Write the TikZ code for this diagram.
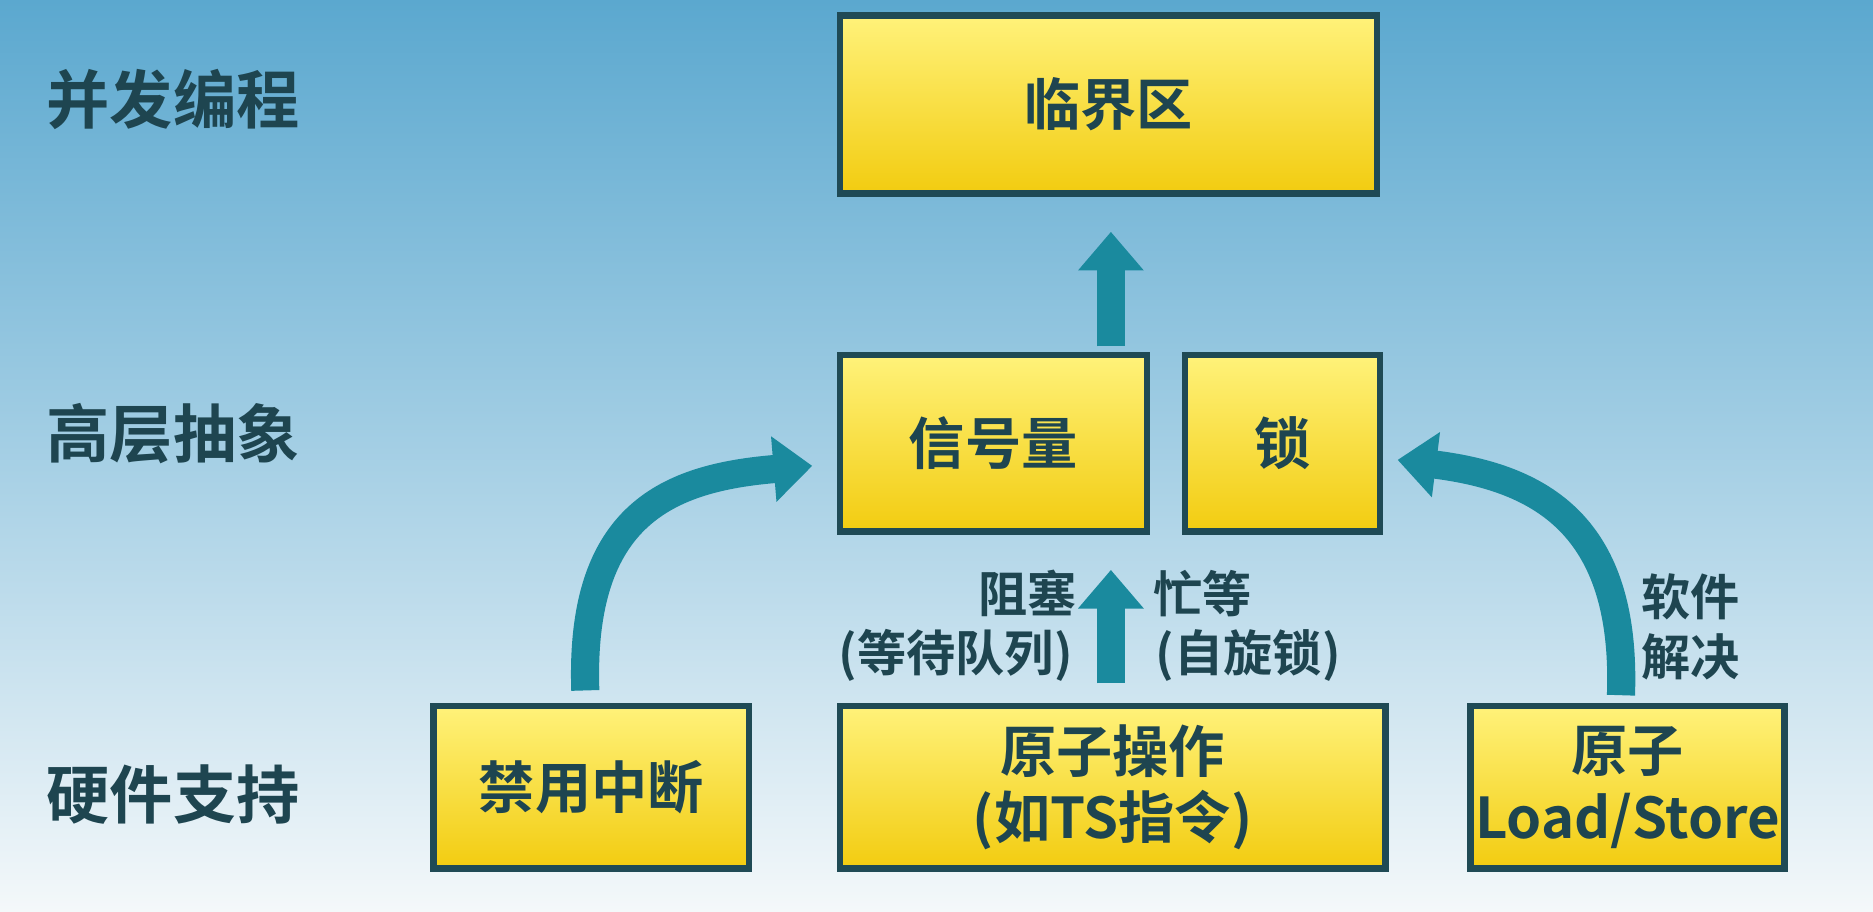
\documentclass[tikz,border=0pt]{standalone}
\usepackage{fontspec}
\newfontfamily\cjk{Noto Sans CJK SC}[BoldFont={Noto Sans CJK SC Bold}]
\usetikzlibrary{arrows.meta}
\definecolor{txt}{HTML}{1E4550}
\definecolor{bord}{HTML}{1F4A55}
\definecolor{arr}{HTML}{1A8A9E}
\definecolor{bgtop}{HTML}{5BA8CF}
\definecolor{bgbot}{HTML}{F4F8FA}
\definecolor{ytop}{HTML}{FFF27A}
\definecolor{ybot}{HTML}{F2CC10}
\tikzset{
  box/.style={draw=bord, line width=1.8pt, top color=ytop, bottom color=ybot, inner sep=0pt, font=\cjk\bfseries\fontsize{16}{19}\selectfont, text=txt, align=center},
  lvl/.style={font=\cjk\bfseries\fontsize{18}{21}\selectfont, text=txt, anchor=center},
  lab/.style={font=\cjk\bfseries\fontsize{14}{17}\selectfont, text=txt, align=center},
  fat/.style={draw=arr, line width=8pt, -{Triangle[length=11pt,width=18pt]}}
}
\begin{document}
\begin{tikzpicture}[x=0.011945cm,y=-0.011945cm]
\shade[top color=bgtop, bottom color=bgbot, middle color=bgtop!55!white] (0,0) rectangle (1568,763);
\useasboundingbox (0,0) rectangle (1568,763);
\newcommand{\bx}[6]{\node[box, minimum width=#4*0.011945cm-#2*0.011945cm, minimum height=#5*0.011945cm-#3*0.011945cm] (#1) at ({(#2+#4)/2},{(#3+#5)/2}) {#6};}
\bx{crit}{703}{13}{1153}{162}{临界区}
\bx{sem}{703}{297}{960}{445}{信号量}
\bx{lock}{992}{297}{1155}{445}{锁}
\bx{dis}{363}{591}{627}{727}{禁用中断}
\bx{atom}{703}{591}{1160}{727}{原子操作\\(如TS指令)}
\bx{ls}{1231}{591}{1494}{727}{原子\\Load/Store}
\node[lvl] (l1) at (145,83) {并发编程};
\node[lvl] (l2) at (145,363) {高层抽象};
\node[lvl] (l3) at (145,665) {硬件支持};
\coordinate (a1) at (930,290);
\coordinate (a2) at (930,572);
\coordinate (c1) at (490,578);
\coordinate (c2) at (1357,582);
\draw[fat] (a1) -- ([yshift=-10pt]crit.south -| a1);
\draw[fat] (a2) -- ([yshift=-10pt]sem.south -| a2);
\draw[fat] (c1) .. controls (485,430) and (560,400) .. (680,390);
\draw[fat] (c2) .. controls (1362,440) and (1290,400) .. (1170,385);
\node[lab] (t1) at (860,497) {阻塞};
\node[lab] (t2) at (800,549) {(等待队列)};
\node[lab] (t3) at (1007,497) {忙等};
\node[lab] (t4) at (1045,549) {(自旋锁)};
\node[lab] (t5) at (1415,525) {软件\\解决};
\end{tikzpicture}
\end{document}
